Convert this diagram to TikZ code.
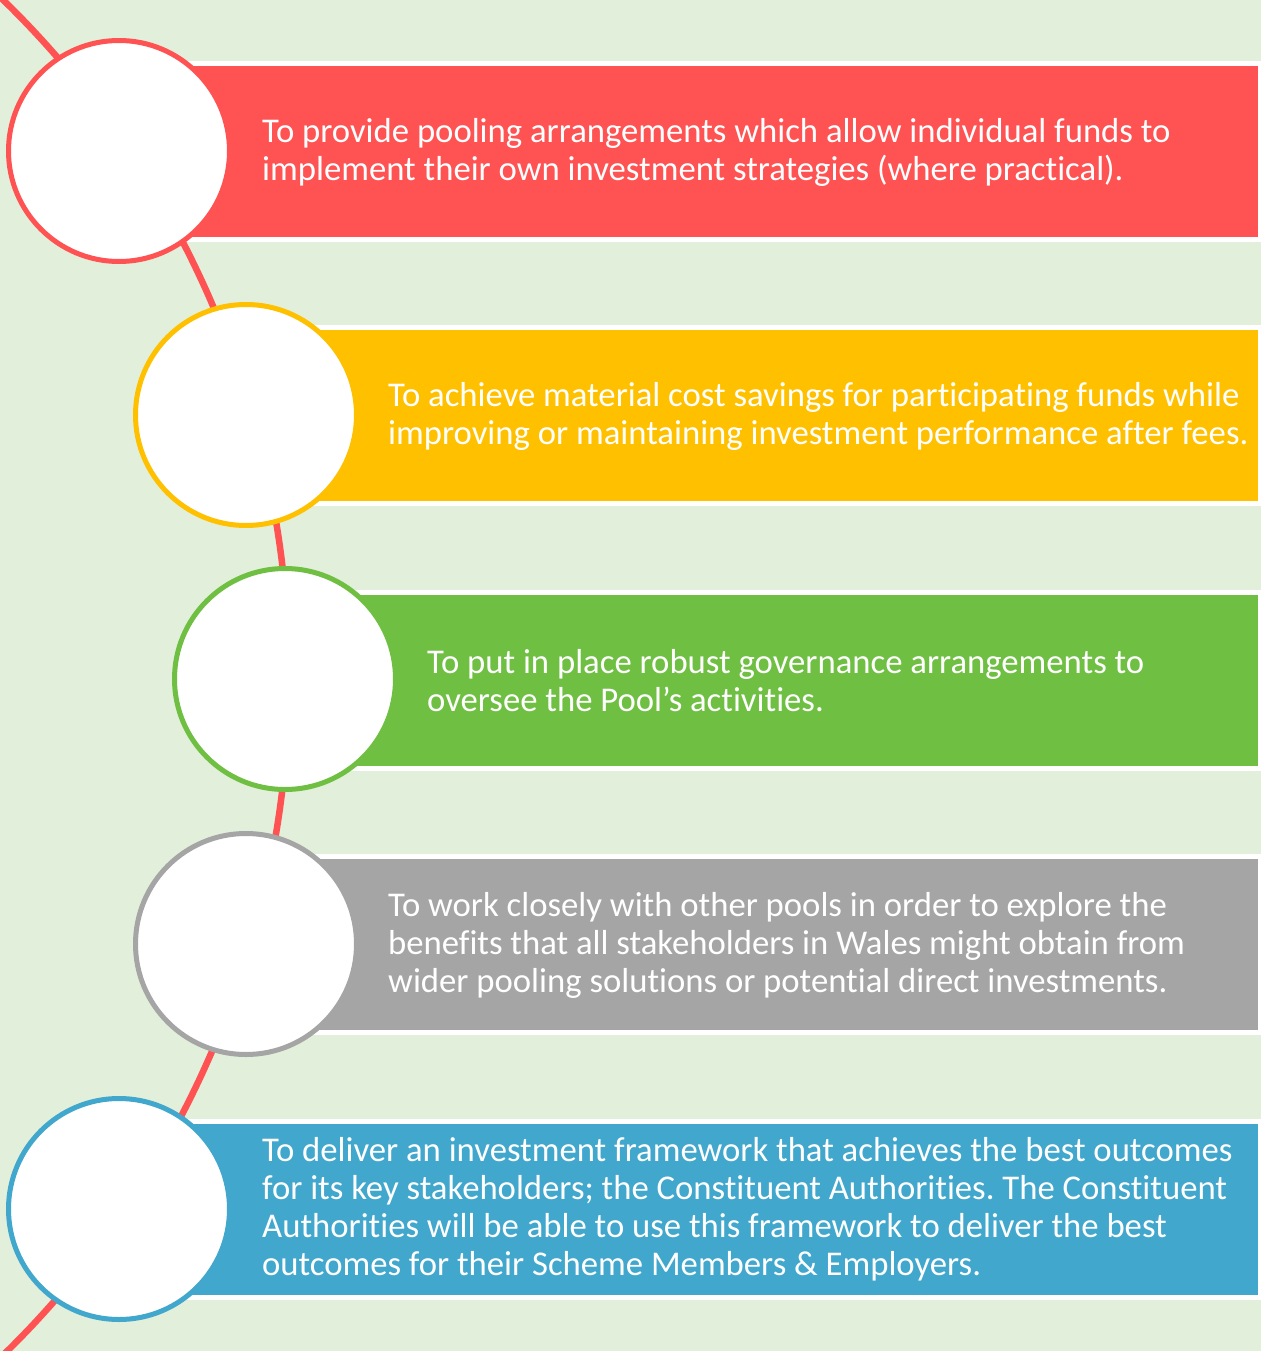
\documentclass[tikz,border=0pt]{standalone}
\usepackage{fontspec}
\setmainfont{Carlito}[Ligatures=NoCommon]
\frenchspacing
\definecolor{bg}{HTML}{E2EFDA}
\definecolor{cred}{HTML}{FF5252}
\definecolor{cyel}{HTML}{FFC000}
\definecolor{cgrn}{HTML}{6FBF43}
\definecolor{cgry}{HTML}{A5A5A5}
\definecolor{cblu}{HTML}{41A7CD}
\begin{document}
\begin{tikzpicture}[x=1pt,y=1pt,
  bar/.style={draw=white, line width=5pt, rectangle, minimum height=176pt, inner sep=0pt, outer sep=0pt, anchor=east},
  ring/.style={circle, fill=white, line width=5pt, minimum size=221pt, inner sep=0pt},
  txt/.style={text=white, font=\fontsize{34.7}{38}\selectfont, align=left, anchor=west, inner sep=0pt}]
\fill[bg] (0,0) rectangle (1261,-1351);
\useasboundingbox (0,0) rectangle (1261,-1351);
\begin{scope}
\clip (0,0) rectangle (1261,-1351);
\draw[cred, line width=6.5pt] (-657,-677.5) ++(50:946) arc[start angle=50, end angle=-50, radius=946];
\end{scope}
% bars
\node[bar, fill=cred, minimum width=1141pt] (b1) at (1260.5,-151.5) {};
\node[bar, fill=cyel, minimum width=1014pt] (b2) at (1260.5,-415) {};
\node[bar, fill=cgrn, minimum width=975pt]  (b3) at (1260.5,-680) {};
\node[bar, fill=cgry, minimum width=1014pt] (b4) at (1260.5,-944.5) {};
\node[bar, fill=cblu, minimum width=1141pt] (b5) at (1260.5,-1209) {};
% circles
\node[ring, draw=cred] (c1) at (119,-151) {};
\node[ring, draw=cyel] (c2) at (246,-415) {};
\node[ring, draw=cgrn] (c3) at (285,-679) {};
\node[ring, draw=cgry] (c4) at (246,-944) {};
\node[ring, draw=cblu] (c5) at (119,-1209) {};
% texts
\node[txt] (t1) at (262,-152) {To provide pooling arrangements which allow individual funds to\\implement their own investment strategies (where practical).};
\node[txt] (t2) at (388,-416) {To achieve material cost savings for participating funds while\\improving or maintaining investment performance after fees.};
\node[txt] (t3) at (427,-681) {To put in place robust governance arrangements to\\oversee the Pool’s activities.};
\node[txt] (t4) at (388,-945) {To work closely with other pools in order to explore the\\benefits that all stakeholders in Wales might obtain from\\wider pooling solutions or potential direct investments.};
\node[txt] (t5) at (262,-1209) {To deliver an investment framework that achieves the best outcomes\\for its key stakeholders; the Constituent Authorities. The Constituent\\Authorities will be able to use this framework to deliver the best\\outcomes for their Scheme Members \& Employers.};
\end{tikzpicture}
\end{document}
